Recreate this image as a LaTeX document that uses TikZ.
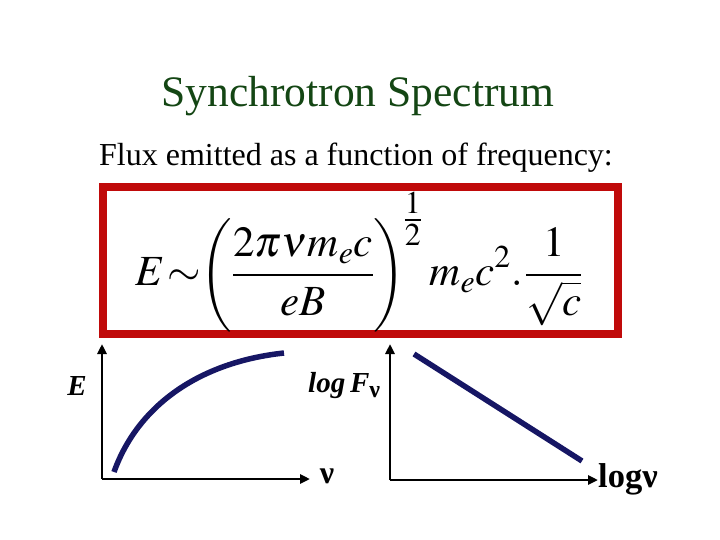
\documentclass[tikz,border=0pt]{standalone}
\usepackage{amsmath}
\usepackage{graphicx}
\usepackage{mathptmx}
\usepackage{fontspec}
\setmainfont{Liberation Serif}
\usetikzlibrary{arrows.meta}
\definecolor{titlegreen}{RGB}{20,70,20}
\definecolor{boxred}{RGB}{192,10,10}
\definecolor{curveblue}{RGB}{22,22,100}
\newcommand{\tallparen}[1]{\mathopen{\vcenter{\hbox{\scalebox{1}[1.1]{$#1$}}}}}
\newcommand{\tallparenr}[1]{\mathclose{\vcenter{\hbox{\scalebox{1}[1.1]{$#1$}}}}}
\begin{document}
\begin{tikzpicture}[x=1pt,y=-1pt,
  axis/.style={line width=2.6pt, -{Triangle[length=10pt,width=9pt]}},
  curve/.style={curveblue, line width=5.5pt},
  lbl/.style={font=\fontsize{30}{34}\selectfont\bfseries, inner sep=0pt}]
\useasboundingbox (0,0) rectangle (720,540);
\node[titlegreen, font=\fontsize{43.5}{48}\selectfont] (title) at (358,96) {Synchrotron Spectrum};
\node[font=\fontsize{32}{38}\selectfont] (sub) at (356,158) {Flux emitted as a function of frequency:};
\node[draw=boxred, line width=8pt, minimum width=515pt, minimum height=147pt] (box) at (360.5,260.5) {};
\node[font=\fontsize{43}{50}\selectfont, inner sep=0pt, anchor=west] (eq) at (135,262)
  {$\displaystyle E\mathrel{\mkern-3mu\sim\mkern-4mu}\tallparen{\biggl(}\frac{2\pi\nu m_e c}{eB}\tallparenr{\biggr)}^{\mkern-1mu\textstyle\frac{1}{2}}\mkern3mu m_e c^{2}\mkern0mu.\mkern1mu\frac{1}{\sqrt{c}}$};
% left graph
\coordinate (o1) at (102,479);
\coordinate (y1) at (102,344);
\coordinate (x1) at (310,479);
\coordinate (c1a) at (114,472);
\coordinate (c1b) at (284,353);
\draw[axis] (o1) -- (y1);
\draw[axis] (o1) -- (x1);
\draw[curve] (c1a) .. controls (138,405) and (200,362) .. (c1b);
\node[lbl, font=\fontsize{29}{32}\selectfont\bfseries\itshape] (lE) at (77,386) {E};
\node[lbl, font=\fontsize{32}{34}\selectfont\bfseries] (lnu) at (327,476) {ν};
\node[lbl, anchor=base west, font=\fontsize{29}{32}\selectfont\bfseries] (lF) at (308,392) {\itshape log\,F\raisebox{-0.2em}{\fontsize{24}{26}\selectfont\upshape ν}};
% right graph
\coordinate (o2) at (390,480);
\coordinate (y2) at (390,344);
\coordinate (x2) at (598,480);
\coordinate (c2a) at (414,354);
\coordinate (c2b) at (582,461);
\draw[axis] (o2) -- (y2);
\draw[axis] (o2) -- (x2);
\draw[curve] (c2a) -- (c2b);
\node[lbl, anchor=base west, font=\fontsize{34.5}{36}\selectfont\bfseries] (llog) at (598,487) {logν};
\end{tikzpicture}
\end{document}
